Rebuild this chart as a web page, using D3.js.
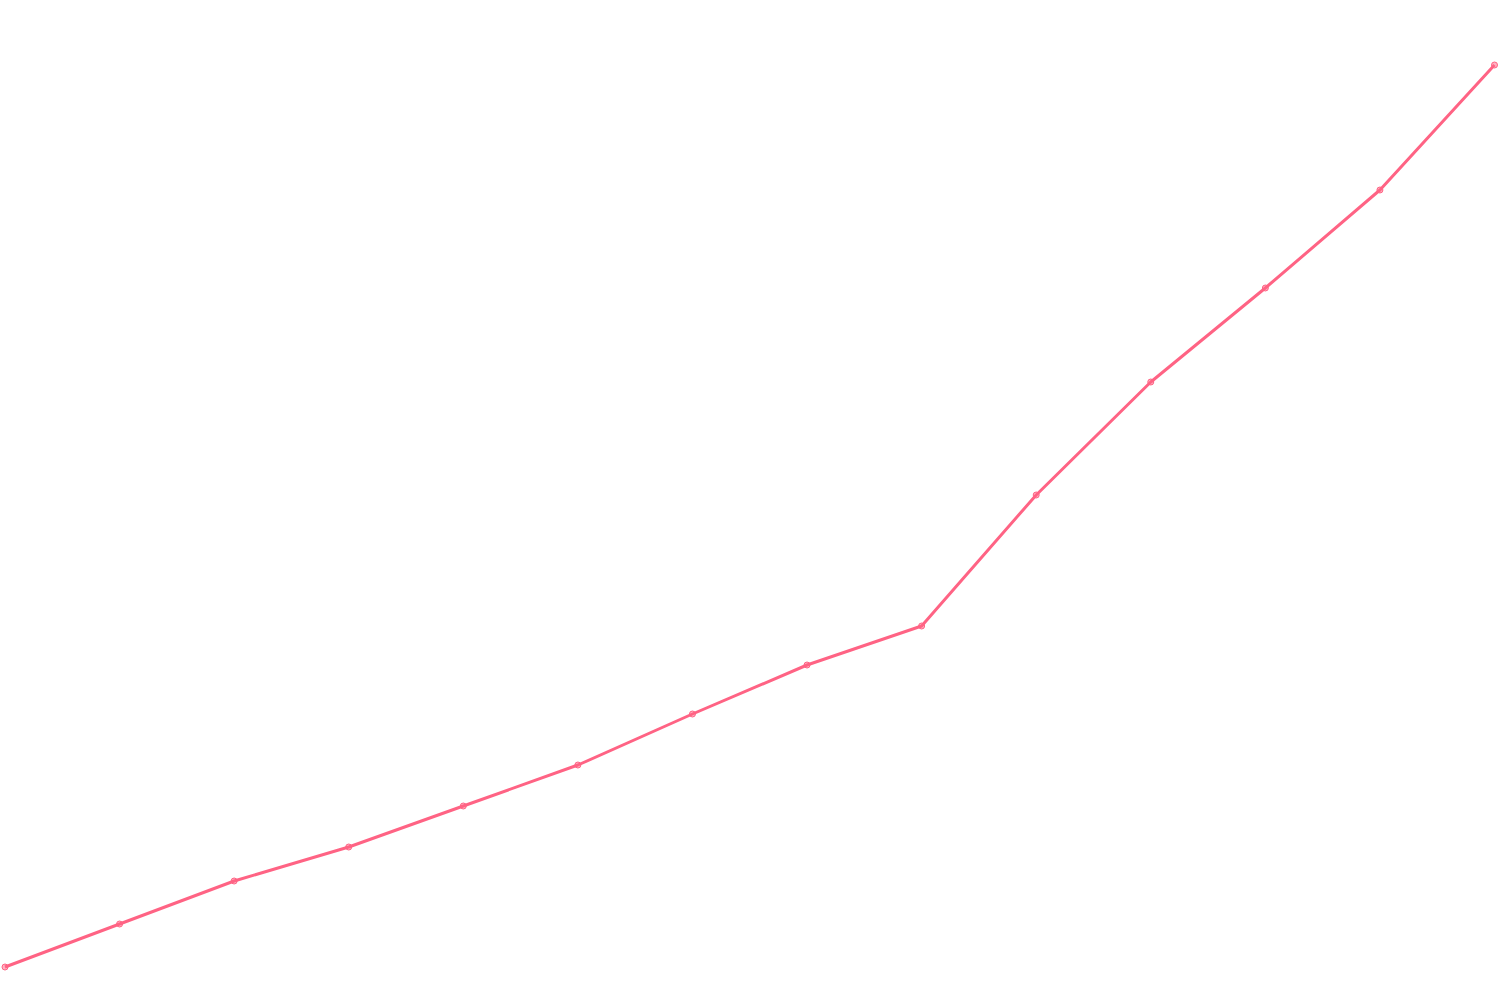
<!DOCTYPE html>
<html>
<head>
<meta charset="utf-8">
<script src="https://cdn.jsdelivr.net/npm/d3@7"></script>
<style>
  html, body { margin: 0; padding: 0; background: #fff; }
  svg { display: block; }
</style>
</head>
<body>
<svg id="chart" width="1500" height="1000"></svg>
<script>
    const WIDTH = 1500;
    const HEIGHT = 1000;
    const LINE_COLOR = 'rgb(255, 99, 132)';

    // categories (no labels are drawn in the picture)
    const categories = d3.range(1, 15).map(i => 'P' + i);
    // series values
    const values = [33, 76, 119, 153, 194, 235, 286, 335, 374, 505, 618, 712, 810, 935];

    const svg = d3.select('#chart');

    const x = d3.scalePoint()
        .domain(categories)
        .range([5, 1494.5]);

    const y = d3.scaleLinear()
        .domain([0, 1000])
        .range([HEIGHT, 0]);

    const line = d3.line()
        .x((d, i) => x(categories[i]))
        .y(d => y(d));

    svg.append('path')
        .datum(values)
        .attr('fill', 'none')
        .attr('stroke', LINE_COLOR)
        .attr('stroke-width', 3)
        .attr('stroke-linejoin', 'round')
        .attr('d', line);

    svg.selectAll('circle.point')
        .data(values)
        .join('circle')
        .classed('point', true)
        .attr('cx', (d, i) => x(categories[i]))
        .attr('cy', d => y(d))
        .attr('r', 3)
        .attr('fill', 'rgba(255, 99, 132, 0.5)')
        .attr('stroke', LINE_COLOR)
        .attr('stroke-width', 1);
</script>
</body>
</html>
